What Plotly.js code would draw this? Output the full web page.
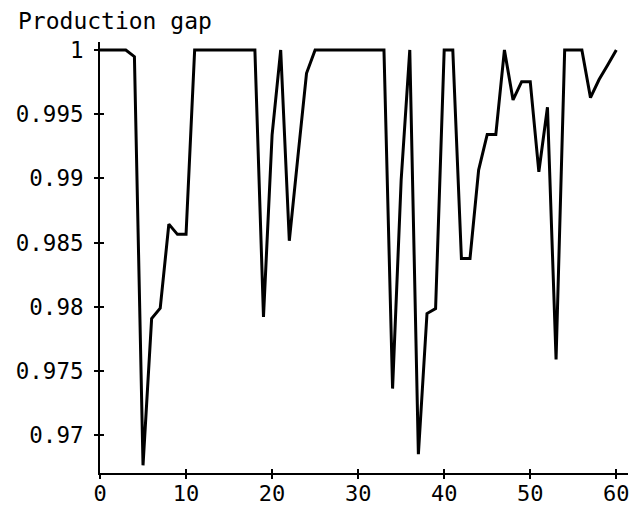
<!DOCTYPE html>
<html>
<head>
<meta charset="utf-8">
<script src="https://cdn.plot.ly/plotly-3.0.1.min.js"></script>
<style>
  html, body { margin: 0; padding: 0; background: #fff; }
  #chart { width: 641px; height: 508px; }
</style>
</head>
<body>
<div id="chart"></div>
<script>
// Period index and production gap per period
const periods = [
  0, 1, 2, 3, 4, 5, 6, 7, 8, 9,
  10, 11, 12, 13, 14, 15, 16, 17, 18, 19,
  20, 21, 22, 23, 24, 25, 26, 27, 28, 29,
  30, 31, 32, 33, 34, 35, 36, 37, 38, 39,
  40, 41, 42, 43, 44, 45, 46, 47, 48, 49,
  50, 51, 52, 53, 54, 55, 56, 57, 58, 59,
  60
];
const productionGap = [
  1, 1, 1, 1, 0.99948, 0.96768, 0.9791, 0.9799, 0.98645, 0.98565,
  0.98565, 1, 1, 1, 1, 1, 1, 1, 1, 0.97923,
  0.9934, 1, 0.98515, 0.9917, 0.99818, 1, 1, 1, 1, 1,
  1, 1, 1, 1, 0.97365, 0.9899, 1, 0.96854, 0.97949, 0.97988,
  1, 1, 0.98378, 0.98378, 0.99065, 0.99343, 0.99343, 1, 0.99611, 0.99753,
  0.99753, 0.99052, 0.99554, 0.97591, 1, 1, 1, 0.99629, 0.9977, 0.99883,
  1
];
const xTicks = [0, 10, 20, 30, 40, 50, 60];
const yTicks = [0.97, 0.975, 0.98, 0.985, 0.99, 0.995, 1];

const FONT = "DejaVu Sans Mono";
const xRange = [0, 61.36];
const yRange = [0.96708, 1.00062];

const trace = {
  x: periods,
  y: productionGap,
  type: "scatter",
  mode: "lines",
  line: { color: "#000", width: 3 },
  hoverinfo: "skip"
};

// Ghost trace on overlay axes so the inward half of each tick is drawn
const ghost = {
  x: periods, y: productionGap, xaxis: "x2", yaxis: "y2",
  type: "scatter", mode: "lines", line: { width: 0 }, hoverinfo: "skip"
};

const baseAxis = {
  showgrid: false, zeroline: false,
  showline: true, linecolor: "#000", linewidth: 2,
  tickcolor: "#000", tickwidth: 2, ticklen: 4,
  tickfont: { family: FONT, size: 22.5, color: "#000" }
};

const layout = {
  width: 641, height: 508,
  margin: { l: 100, r: 13, t: 42, b: 35 },
  paper_bgcolor: "#fff", plot_bgcolor: "#fff",
  showlegend: false,
  title: {
    text: "Production gap",
    font: { family: FONT, size: 23, color: "#000" },
    x: 18 / 641, xanchor: "left", xref: "container",
    y: 1 - 21 / 508, yanchor: "middle", yref: "container"
  },
  xaxis: Object.assign({}, baseAxis, {
    range: xRange, tickvals: xTicks, ticktext: xTicks.map(String),
    ticks: "outside", ticklabelstandoff: -4,
    tickfont: { family: FONT, size: 22, color: "#000" }
  }),
  yaxis: Object.assign({}, baseAxis, {
    range: yRange, tickvals: yTicks, ticktext: yTicks.map(v => String(v)),
    ticks: "outside", ticklabelstandoff: 6
  }),
  xaxis2: Object.assign({}, baseAxis, {
    overlaying: "x", range: xRange, tickvals: xTicks,
    ticks: "inside", showticklabels: false, showline: false
  }),
  yaxis2: Object.assign({}, baseAxis, {
    overlaying: "y", range: yRange, tickvals: yTicks,
    ticks: "inside", showticklabels: false, showline: false
  })
};

Plotly.newPlot("chart", [ghost, trace], layout, { displayModeBar: false, staticPlot: true });
</script>
</body>
</html>
